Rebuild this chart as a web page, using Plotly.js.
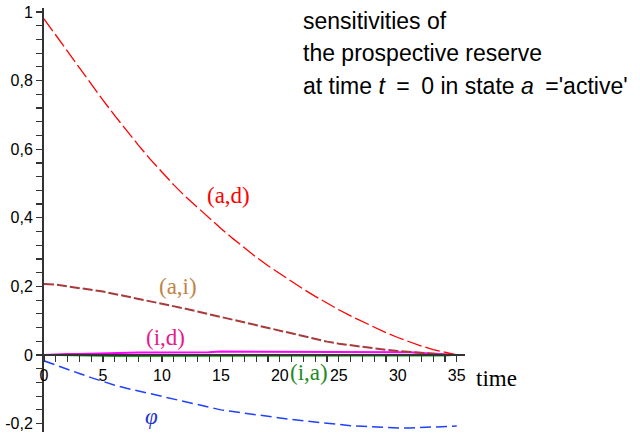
<!DOCTYPE html>
<html>
<head>
<meta charset="utf-8">
<script src="https://cdn.plot.ly/plotly-3.0.1.min.js"></script>
<style>html,body{margin:0;padding:0;background:#fff;}#chart{width:640px;height:437px;}</style>
</head>
<body>
<div id="chart"></div>
<script>
// time in years
const time = [0,1,2,3,4,5,6,7,8,9,10,11,12,13,14,15,16,17,18,19,20,21,22,23,24,25,26,27,28,29,30,31,32,33,34,35];
// sensitivity (a,d)
const sensAD = [0.98,0.932,0.884,0.837,0.79,0.743,0.698,0.654,0.612,0.571,0.532,0.496,0.462,0.43,0.399,0.369,0.34,0.312,0.285,0.26,0.237,0.214,0.192,0.171,0.151,0.132,0.114,0.097,0.081,0.065,0.051,0.038,0.026,0.016,0.007,0];
// sensitivity (a,i)
const sensAI = [0.207,0.205,0.2,0.196,0.19,0.185,0.178,0.171,0.164,0.157,0.151,0.143,0.135,0.127,0.119,0.11,0.101,0.093,0.085,0.077,0.069,0.061,0.054,0.046,0.039,0.033,0.028,0.023,0.019,0.015,0.012,0.009,0.006,0.003,0.001,0];
// sensitivity (i,d)
const sensID = [0,0.002,0.003,0.003,0.004,0.005,0.007,0.007,0.007,0.007,0.007,0.007,0.007,0.007,0.008,0.01,0.01,0.01,0.01,0.01,0.01,0.01,0.01,0.01,0.01,0.01,0.01,0.01,0.01,0.01,0.01,0.008,0.006,0.004,0.002,0];
// sensitivity (i,a)
const sensIA = [0,-0.001,-0.002,-0.003,-0.004,-0.004,-0.004,-0.004,-0.004,-0.004,-0.004,-0.004,-0.004,-0.004,-0.004,-0.004,-0.004,-0.004,-0.004,-0.004,-0.004,-0.004,-0.004,-0.004,-0.004,-0.004,-0.004,-0.004,-0.004,-0.004,-0.004,-0.004,-0.004,-0.003,-0.002,0];
// sensitivity phi
const sensPhi = [-0.017,-0.03,-0.042,-0.054,-0.066,-0.078,-0.088,-0.097,-0.105,-0.113,-0.12,-0.129,-0.137,-0.145,-0.153,-0.16,-0.165,-0.17,-0.175,-0.18,-0.184,-0.188,-0.192,-0.196,-0.2,-0.204,-0.206,-0.208,-0.21,-0.212,-0.213,-0.213,-0.212,-0.211,-0.209,-0.207];

const xTickVals = [0,5,10,15,20,25,30,35];
const xTickText = ['0','5','10','15','20','25','30','35'];
const yTickVals = [-0.2,0,0.2,0.4,0.6,0.8,1];
const yTickText = ['-0,2','0','0,2','0,4','0,6','0,8','1'];

const yRange = [-0.2245, 1.0117];
const xRange = [0, 35.7];

const traces = [
  {x: time, y: sensIA, mode:'lines', line:{color:'#10A810', width:1.5}},
  {x: time, y: sensID, mode:'lines', line:{color:'#FF00FF', width:2}},
  {x: time, y: sensAI, mode:'lines', line:{color:'#A83A3A', width:2, dash:'10px,3px'}},
  {x: time, y: sensPhi, mode:'lines', line:{color:'#2040FF', width:1.5, dash:'11px,5px'}},
  {x: time, y: sensAD, mode:'lines', line:{color:'#FF0000', width:1.3, dash:'15px,4px'}}
];

const axisFont = {family:'Liberation Sans, Arial, sans-serif', size:16, color:'#000'};
const serif = 'Liberation Serif, Times New Roman, serif';
const sans = 'Liberation Sans, Arial, sans-serif';

const curveLabels = [
  {text:'(a,d)', x:15.68, y:0.466, color:'#FF0000'},
  {text:'(a,i)', x:11.36, y:0.201, color:'#C08444'},
  {text:'(i,d)', x:10.34, y:0.05, color:'#E8198C'},
  {text:'(i,a)', x:22.46, y:-0.05, color:'#1E8C1E'},
  {text:'<i>φ</i>', x:9.15, y:-0.178, color:'#2233CC'}
];

const annotations = curveLabels.map(l => ({
  xref:'x', yref:'y', x:l.x, y:l.y, text:l.text, showarrow:false,
  font:{family:serif, size:23, color:l.color}, xanchor:'center', yanchor:'middle'
}));

const titleLines = ['sensitivities of', 'the prospective reserve', 'at time <i>t</i>&#8194;=&#8194;0 in state <i>a</i>&#8194;=\'active\''];
const titleY = [0.969, 0.893, 0.817];
titleLines.forEach((t, i) => annotations.push({
  xref:'paper', yref:'paper', x:0.61, y:titleY[i], text:t, showarrow:false,
  xanchor:'left', yanchor:'middle', font:{family:sans, size:23, color:'#000'}
}));
annotations.push({xref:'paper', yref:'paper', x:1.076, y:0.127, text:'time', showarrow:false,
  xanchor:'center', yanchor:'middle', font:{family:serif, size:23, color:'#000'}});

const layout = {
  width:640, height:437,
  margin:{l:44, r:175, t:8, b:5},
  paper_bgcolor:'#fff', plot_bgcolor:'#fff',
  showlegend:false,
  xaxis:{
    range:xRange, showgrid:false, zeroline:false,
    anchor:'free', position:(-yRange[0])/(yRange[1]-yRange[0]),
    showline:true, linecolor:'#333', linewidth:2,
    ticks:'outside', ticklen:6, tickwidth:1.2, tickcolor:'#333',
    tickmode:'array', tickvals:xTickVals, ticktext:xTickText, tickfont:axisFont,
    minor:{tickmode:'linear', tick0:0, dtick:1, ticks:'outside', ticklen:6, tickwidth:1.2, tickcolor:'#333'}
  },
  yaxis:{
    range:yRange, showgrid:false, zeroline:false,
    showline:true, linecolor:'#333', linewidth:2,
    ticks:'outside', ticklen:6, tickwidth:1.2, tickcolor:'#333',
    tickmode:'array', tickvals:yTickVals, ticktext:yTickText, tickfont:axisFont,
    minor:{tickmode:'linear', tick0:0, dtick:0.04, ticks:'outside', ticklen:6, tickwidth:1.2, tickcolor:'#333'}
  },
  annotations:annotations
};

Plotly.newPlot('chart', traces, layout, {displayModeBar:false, staticPlot:true});
</script>
</body>
</html>
